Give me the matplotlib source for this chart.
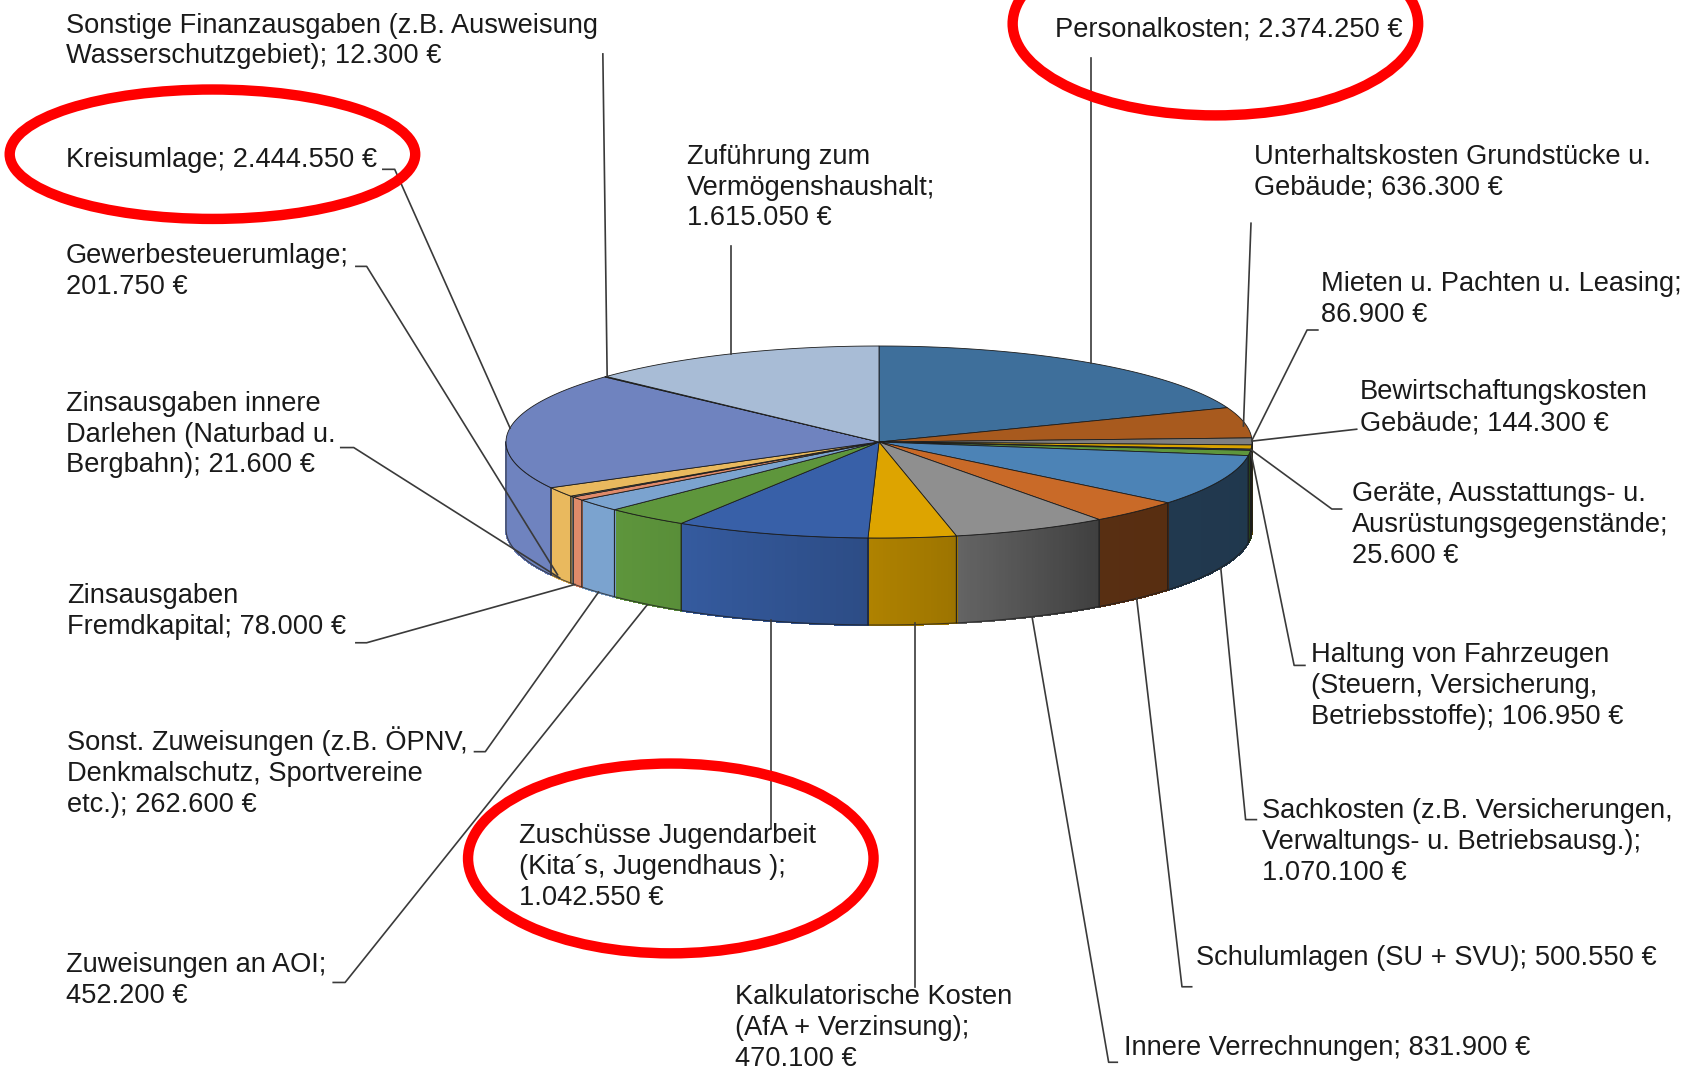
import numpy as np
import matplotlib
matplotlib.use("Agg")
import matplotlib.pyplot as plt
from matplotlib.patches import Ellipse
from matplotlib.colors import to_rgb

plt.rcParams["font.family"] = ["Liberation Sans", "DejaVu Sans"]

# clockwise from 12 o'clock
values = [2374250, 636300, 144300, 86900, 25600, 106950, 1070100, 500550, 831900, 470100,
          1042550, 452200, 262600, 78000, 21600, 201750, 2444550, 12300, 1615050]
names = ["Personalkosten; ", "Unterhaltskosten Grundstücke u.\nGebäude; ", "Bewirtschaftungskosten\nGebäude; ",
         "Mieten u. Pachten u. Leasing;\n", "Geräte, Ausstattungs- u.\nAusrüstungsgegenstände;\n",
         "Haltung von Fahrzeugen\n(Steuern, Versicherung,\nBetriebsstoffe); ",
         "Sachkosten (z.B. Versicherungen,\nVerwaltungs- u. Betriebsausg.);\n", "Schulumlagen (SU + SVU); ",
         "Innere Verrechnungen; ", "Kalkulatorische Kosten\n(AfA + Verzinsung);\n",
         "Zuschüsse Jugendarbeit\n(Kita´s, Jugendhaus );\n", "Zuweisungen an AOI;\n",
         "Sonst. Zuweisungen (z.B. ÖPNV,\nDenkmalschutz, Sportvereine\netc.); ", "Zinsausgaben\nFremdkapital; ",
         "Zinsausgaben innere\nDarlehen (Naturbad u.\nBergbahn); ", "Gewerbesteuerumlage;\n", "Kreisumlage; ",
         "Sonstige Finanzausgaben (z.B. Ausweisung\nWasserschutzgebiet); ", "Zuführung zum\nVermögenshaushalt;\n"]
colors = ["#3e6f9b", "#a85a1e", "#808080", "#d9a300", "#2f4f8a", "#5e963c", "#4c83b6", "#c96a28", "#8f8f8f", "#dda400",
          "#3860a8", "#5e963c", "#7ba3cf", "#e08a6a", "#a5a5a5", "#e9b95e", "#6f83bf", "#8fb26e", "#a8bcd6"]

# label position in the shrunk 1568 wide view: left, middle of block
label_pos = [(978, 27), (1163, 160), (1261, 378), (1225, 278), (1254, 487), (1216, 636), (1170, 781), (1109, 888),
             (1042, 972), (682, 953), (481, 804), (61, 909), (62, 716), (62, 567), (61, 403), (61, 252), (61, 148),
             (61, 38), (637, 174)]
leaders = [[(1012, 54), (1012, 337)], [(1160, 207), (1153, 395)], [(1258, 398), (1161, 409)],
           [(1222, 306), (1212, 306), (1161, 408)], [(1244, 472), (1235, 472), (1160, 417)],
           [(1210, 617), (1200, 617), (1160, 420)], [(1165, 760), (1155, 760), (1132, 527)],
           [(1105, 915), (1096, 915), (1054, 555)], [(1036, 985), (1028, 985), (957, 572)],
           [(848, 915), (848, 578)], [(715, 768), (715, 575)], [(309, 911), (320, 911), (600, 561)],
           [(440, 697), (450, 697), (555, 549)], [(330, 596), (340, 596), (533, 542)],
           [(316, 415), (328, 415), (519, 536)], [(330, 247), (340, 247), (517, 533)],
           [(355, 157), (366, 157), (473, 397)], [(559, 50), (563, 349)], [(678, 228), (678, 328)]]
rings = [(1127, 22, 376, 170), (197, 143, 376, 120), (622, 796, 376, 176)]

S = 1691 / 1568
cx, cy, rx, ry, depth = 879, 442, 373, 96, 87

fig = plt.figure(figsize=(16.91, 10.74), dpi=100)
ax = fig.add_axes([0, 0, 1, 1])
ax.set_xlim(0, 1691)
ax.set_ylim(1074, 0)
ax.axis("off")


def rim(t):
    r = np.radians(t)
    return cx + rx * np.sin(r), cy - ry * np.cos(r)


def shade(t):
    return np.interp(t, [90, 144, 170, 183, 213, 226, 270], [0.42, 0.44, 0.72, 0.8, 0.95, 1, 1])


edges = np.concatenate([[0], np.cumsum(values)]) / sum(values) * 360
EDGE = "#1c1c1c"

# side wall, only the front half shows
for i in range(len(values)):
    t0, t1 = max(edges[i], 90), min(edges[i + 1], 270)
    if t1 <= t0:
        continue
    steps = np.linspace(t0, t1, max(int(t1 - t0) * 2, 2) + 1)
    base = np.array(to_rgb(colors[i]))
    for a, b in zip(steps[:-1], steps[1:]):
        ts = np.linspace(a, b, 4)
        x, y = rim(ts)
        c = base * shade((a + b) / 2)
        ax.fill(np.r_[x, x[::-1]], np.r_[y, y[::-1] + depth], facecolor=c, edgecolor=c, lw=1,
                antialiased=False, zorder=1)
    ts = np.linspace(t0, t1, 60)
    x, y = rim(ts)
    ax.plot(np.r_[x, x[::-1], x[0]], np.r_[y, y[::-1] + depth, y[0]], color=EDGE, lw=0.8, alpha=0.7, zorder=2)

# top face
for i in range(len(values)):
    ts = np.linspace(edges[i], edges[i + 1], max(int(edges[i + 1] - edges[i]) * 2, 2) + 1)
    x, y = rim(ts)
    ax.fill(np.r_[cx, x], np.r_[cy, y], facecolor=colors[i], edgecolor=EDGE, lw=0.6, zorder=3)

for i in range(len(values)):
    pts = np.array(leaders[i]) * S
    ax.plot(pts[:, 0], pts[:, 1], color="#3a3a3a", lw=1.2, zorder=4)
    label = names[i] + f"{values[i]:,}".replace(",", ".") + " €"
    ax.text(label_pos[i][0] * S, label_pos[i][1] * S, label, ha="left", va="center", fontsize=19.6,
            color="#1a1a1a", linespacing=1.24, zorder=6)

for x, y, w, h in rings:
    ax.add_patch(Ellipse((x * S, y * S), w * S, h * S, fill=False, edgecolor="#ff0000", lw=7.5, zorder=5))

fig.savefig("out.png", dpi=100)
